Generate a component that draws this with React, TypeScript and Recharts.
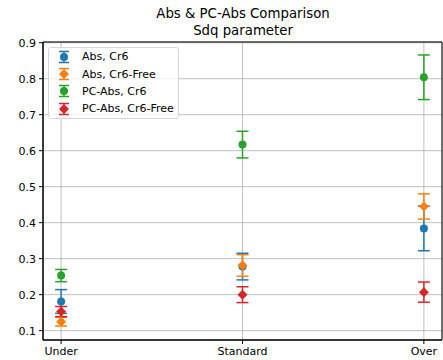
import React from "react";
import {
  ComposedChart,
  Scatter,
  ErrorBar,
  XAxis,
  YAxis,
  CartesianGrid,
  ReferenceArea,
} from "recharts";

const categories = ["Under", "Standard", "Over"];
const absCr6 = [0.181, 0.278, 0.384];
const absCr6Err = [0.033, 0.037, 0.062];
const absCr6Free = [0.125, 0.281, 0.445];
const absCr6FreeErr = [0.012, 0.03, 0.035];
const pcAbsCr6 = [0.253, 0.617, 0.804];
const pcAbsCr6Err = [0.017, 0.037, 0.062];
const pcAbsCr6Free = [0.153, 0.2, 0.207];
const pcAbsCr6FreeErr = [0.014, 0.022, 0.028];
const yTicks = [0.1, 0.2, 0.3, 0.4, 0.5, 0.6, 0.7, 0.8, 0.9];

const FONT = "DejaVu Sans, sans-serif";

type Marker = "circle" | "diamond";

const series = [
  { name: "Abs, Cr6", values: absCr6, errs: absCr6Err, color: "#1f77b4", marker: "circle" as Marker },
  { name: "Abs, Cr6-Free", values: absCr6Free, errs: absCr6FreeErr, color: "#ff7f0e", marker: "diamond" as Marker },
  { name: "PC-Abs, Cr6", values: pcAbsCr6, errs: pcAbsCr6Err, color: "#2ca02c", marker: "circle" as Marker },
  { name: "PC-Abs, Cr6-Free", values: pcAbsCr6Free, errs: pcAbsCr6FreeErr, color: "#d62728", marker: "diamond" as Marker },
];

const toRows = (values: number[], errs: number[]) =>
  values.map((v, i) => ({ x: i, y: v, err: errs[i] }));

function drawMarker(marker: Marker, color: string) {
  return (props: any) => {
    const { cx, cy } = props;
    if (marker === "circle") return <circle cx={cx} cy={cy} r={4} fill={color} />;
    return (
      <path
        d={`M${cx},${cy - 5}L${cx + 5},${cy}L${cx},${cy + 5}L${cx - 5},${cy}Z`}
        fill={color}
      />
    );
  };
}

function LegendBox() {
  return (
    <div
      style={{
        position: "absolute",
        left: 48,
        top: 47,
        background: "rgba(255,255,255,0.8)",
        border: "1px solid #d6d6d6",
        borderRadius: 3,
        padding: "0 4px 0 5px",
        fontFamily: FONT,
        fontSize: 11,
        color: "#000",
      }}
    >
      {series.map((s) => (
        <div key={s.name} style={{ display: "flex", alignItems: "center", height: 17.4 }}>
          <svg width={20} height={14} style={{ marginRight: 8 }}>
            <line x1={10} y1={1} x2={10} y2={13} stroke={s.color} strokeWidth={1.5} />
            <line x1={5} y1={1.5} x2={15} y2={1.5} stroke={s.color} strokeWidth={1.5} />
            <line x1={5} y1={12.5} x2={15} y2={12.5} stroke={s.color} strokeWidth={1.5} />
            {s.marker === "circle" ? (
              <circle cx={10} cy={7} r={4} fill={s.color} />
            ) : (
              <path d="M10,2L15,7L10,12L5,7Z" fill={s.color} />
            )}
          </svg>
          <span style={{ whiteSpace: "nowrap" }}>{s.name}</span>
        </div>
      ))}
    </div>
  );
}

export default function App() {
  return (
    <div style={{ position: "fixed", left: 0, top: 0, width: 443, height: 360, background: "#fff" }}>
      <svg width={443} height={40} style={{ position: "absolute", left: 0, top: 0 }}>
        <text x={243} y={17.5} textAnchor="middle" fontFamily={FONT} fontSize={13.3} fill="#000">
          Abs &amp; PC-Abs Comparison
        </text>
        <text x={243} y={34.5} textAnchor="middle" fontFamily={FONT} fontSize={13.3} fill="#000">
          Sdq parameter
        </text>
      </svg>
      <ComposedChart
        width={443}
        height={360}
        margin={{ top: 42, right: 1, bottom: 0, left: 0 }}
        style={{ position: "absolute", left: 0, top: 0 }}
      >
        <CartesianGrid stroke="#b0b0b0" strokeWidth={0.8} />
        <XAxis
          type="number"
          dataKey="x"
          domain={[-0.1, 2.1]}
          ticks={[0, 1, 2]}
          tickFormatter={(v: number) => categories[v]}
          height={20}
          tickSize={4}
          tickMargin={3}
          stroke="#000"
          tick={{ fill: "#000", fontFamily: FONT, fontSize: 11 }}
          allowDataOverflow
        />
        <YAxis
          type="number"
          dataKey="y"
          domain={[0.074, 0.902]}
          ticks={yTicks}
          tickFormatter={(v: number) => v.toFixed(1)}
          width={43}
          tickSize={4}
          tickMargin={3}
          stroke="#000"
          tick={{ fill: "#000", fontFamily: FONT, fontSize: 11 }}
          allowDataOverflow
        />
        <ReferenceArea
          x1={-0.1}
          x2={2.1}
          y1={0.074}
          y2={0.902}
          fill="none"
          stroke="#000"
          strokeWidth={1}
          ifOverflow="visible"
        />
        {series.map((s) => (
          <Scatter
            key={s.name}
            name={s.name}
            data={toRows(s.values, s.errs)}
            fill={s.color}
            shape={drawMarker(s.marker, s.color)}
            isAnimationActive={false}
          >
            <ErrorBar
              dataKey="err"
              direction="y"
              width={6}
              stroke={s.color}
              strokeWidth={1.5}
              isAnimationActive={false}
            />
          </Scatter>
        ))}
      </ComposedChart>
      <LegendBox />
    </div>
  );
}
